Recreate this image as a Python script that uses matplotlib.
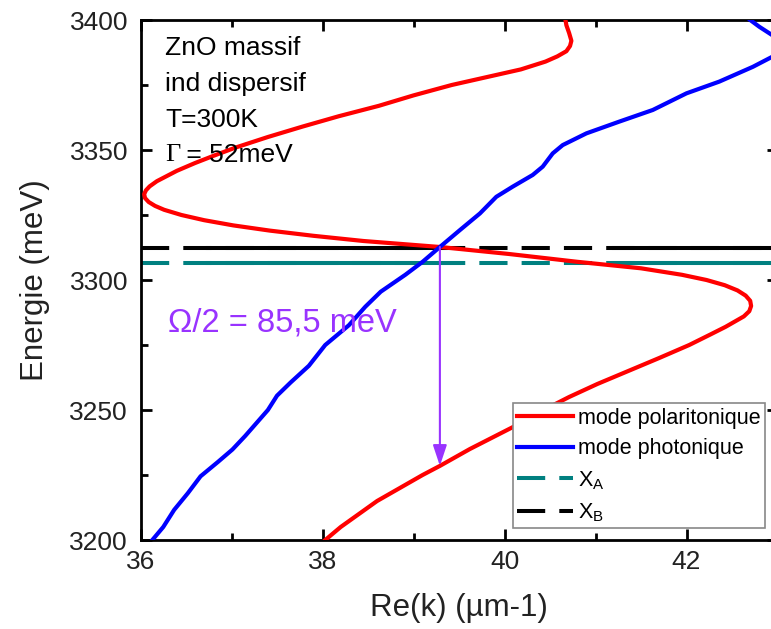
import numpy as np
import matplotlib
matplotlib.use('Agg')
import matplotlib.pyplot as plt

plt.rcParams['font.family'] = ['Liberation Sans', 'DejaVu Sans']
plt.rcParams['mathtext.fontset'] = 'custom'
plt.rcParams['mathtext.rm'] = 'Liberation Sans'
plt.rcParams['mathtext.default'] = 'regular'

# mode polaritonique : energie (meV) -> Re(k) (um-1)
pol_E = [3400, 3398, 3395, 3392, 3390, 3388, 3386, 3384, 3381, 3378, 3375, 3371, 3367, 3363,
         3359, 3355, 3351, 3348, 3345, 3342, 3340, 3338, 3336, 3334.5, 3333, 3331.5,
         3330, 3328.5, 3327, 3325, 3323, 3321, 3319, 3317, 3315, 3312.7, 3310, 3307,
         3304.5, 3302, 3300, 3298, 3296, 3294, 3292, 3290, 3288, 3286, 3284, 3282, 3279,
         3275, 3270, 3265, 3260, 3255, 3250, 3245, 3240, 3235, 3228.5, 3225, 3220, 3215,
         3210, 3205, 3200]
pol_k = [40.67, 40.68, 40.71, 40.735, 40.72, 40.68, 40.58, 40.45, 40.18, 39.80, 39.42, 39.00,
         38.62, 38.18, 37.78, 37.40, 37.05, 36.82, 36.60, 36.40, 36.29, 36.18, 36.10, 36.06,
         36.04, 36.05, 36.09, 36.16, 36.26, 36.45, 36.70, 37.02, 37.42, 37.90, 38.45, 39.29,
         40.05, 40.80, 41.50, 41.95, 42.22, 42.42, 42.56, 42.65, 42.70, 42.71, 42.69, 42.63,
         42.53, 42.43, 42.26, 42.03, 41.70, 41.36, 41.02, 40.71, 40.43, 40.18, 39.90, 39.62,
         39.29, 39.10, 38.85, 38.60, 38.40, 38.20, 38.03]

# mode photonique
pho_E = [3200, 3205, 3211.6, 3218, 3224.5, 3230, 3234.8, 3240, 3245.2, 3250, 3255.5,
         3260.6, 3267, 3275, 3282.6, 3289.7, 3295.5, 3302, 3307, 3312.7, 3319.2, 3325.6,
         3332, 3335.9, 3340.4, 3343.6, 3348.7, 3351.9, 3356.4, 3360.9, 3365.4, 3371.8,
         3376.3, 3382, 3386, 3390, 3394, 3397.4, 3400]
pho_k = [36.13, 36.25, 36.37, 36.52, 36.66, 36.85, 37.01, 37.15, 37.28, 37.40, 37.50,
         37.65, 37.85, 38.03, 38.29, 38.47, 38.64, 38.91, 39.10, 39.29, 39.51, 39.73,
         39.91, 40.09, 40.31, 40.42, 40.53, 40.64, 40.90, 41.26, 41.63, 42.00,
         42.36, 42.73, 42.95, 43.08, 42.95, 42.80, 42.70]

# excitons
E_XA = 3306.5
E_XB = 3312.5
XA_solid = [(36.74, 39.50), (41.20, 43.0)]
XB_solid = [(36.74, 39.35), (41.20, 43.0)]

k_cross = 39.29
E_cross = 3312.7
E_arrow_end = 3228.5

red = '#FF0000'
blue = '#0000FF'
teal = '#008080'
purple = '#9933FF'

fig = plt.figure(figsize=(7.71, 6.29), dpi=100)
ax = fig.add_axes([140.5 / 771, 89 / 629, 637 / 771, 520 / 629])

lw_h = 2.9
ax.axhline(E_XA, color=teal, lw=lw_h, dashes=(7, 3.5), label=r'X$_{A}$', zorder=2)
ax.axhline(E_XB, color='black', lw=lw_h, dashes=(7, 3.5), label=r'X$_{B}$', zorder=2)
for a, b in XA_solid:
    ax.plot([a, b], [E_XA, E_XA], color=teal, lw=lw_h, zorder=2)
for a, b in XB_solid:
    ax.plot([a, b], [E_XB, E_XB], color='black', lw=lw_h, zorder=2)

ax.plot(pol_k, pol_E, color=red, lw=3, label='mode polaritonique', zorder=3,
        solid_joinstyle='round')
ax.plot(pho_k, pho_E, color=blue, lw=3, label='mode photonique', zorder=3,
        solid_joinstyle='round')

ax.annotate('', xy=(k_cross, E_arrow_end), xytext=(k_cross, E_cross),
            arrowprops=dict(arrowstyle='-|>,head_length=0.9,head_width=0.3',
                            color=purple, lw=1.5, mutation_scale=14,
                            shrinkA=0, shrinkB=0), zorder=4)

ax.set_xlim(36, 43)
ax.set_ylim(3200, 3400)
ax.set_xticks([36, 38, 40, 42])
ax.set_xticks([37, 39, 41, 43], minor=True)
ax.set_yticks([3200, 3250, 3300, 3350, 3400])
ax.set_yticks([3225, 3275, 3325, 3375], minor=True)
ax.tick_params(which='both', direction='in', top=True, right=True, width=2,
               colors='black', labelcolor='#222222', labelsize=19)
ax.tick_params(which='major', length=8)
ax.tick_params(which='minor', length=5)
ax.tick_params(axis='y', pad=9)
ax.tick_params(axis='x', pad=7)
for s in ax.spines.values():
    s.set_linewidth(2)

ax.set_xlabel('Re(k) (µm-1)', fontsize=22.5, color='#222222', labelpad=14)
ax.set_ylabel('Energie (meV)', fontsize=22.5, color='#222222', labelpad=14)

tx = 0.0385
ax.text(tx, 0.946, 'ZnO massif', transform=ax.transAxes, fontsize=19, va='center')
ax.text(tx, 0.877, 'ind dispersif', transform=ax.transAxes, fontsize=19, va='center')
ax.text(tx, 0.808, 'T=300K', transform=ax.transAxes, fontsize=19, va='center')
ax.text(tx, 0.740, 'Γ', transform=ax.transAxes, fontsize=19, va='center',
        family='Liberation Serif')
ax.text(tx + 0.022, 0.740, ' = 52meV', transform=ax.transAxes, fontsize=19, va='center')

ax.text(0.043, 0.417, 'Ω/2 = 85,5 meV', transform=ax.transAxes, fontsize=23.5,
        color=purple, va='center')

h, l = ax.get_legend_handles_labels()
order = [2, 3, 0, 1]
leg = ax.legend([h[i] for i in order], [l[i] for i in order],
                loc='upper left', bbox_to_anchor=(0.585, 0.263), borderaxespad=0,
                fontsize=15.5, handlelength=2.6, handletextpad=0.2,
                labelspacing=0.45, borderpad=0.2, fancybox=False,
                framealpha=1, edgecolor='#888888')
leg.get_frame().set_linewidth(1.2)

fig.savefig('out.png', dpi=100)
